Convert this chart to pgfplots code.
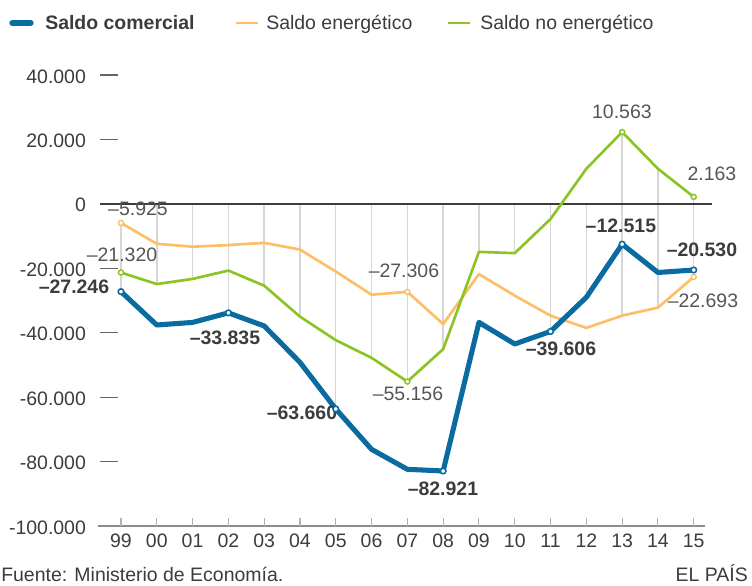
\documentclass[border=0pt]{standalone}
\usepackage{pgfplots}
\pgfplotsset{compat=1.18}
\usepackage{fontspec}
\setmainfont{Liberation Sans}
\definecolor{cblue}{HTML}{0A6BA1}
\definecolor{corange}{HTML}{FDBF66}
\definecolor{cgreen}{HTML}{8DC425}
\definecolor{ctext}{HTML}{3C3C3C}
\definecolor{clabel}{HTML}{555555}
\definecolor{cgrid}{HTML}{D6D6D6}
\begin{document}
\begin{tikzpicture}[font=\fontsize{14.6}{17.5}\selectfont]
\begin{axis}[
  at={(74.625pt,-394.5pt)}, anchor=south west,
  scale only axis, width=459.1pt, height=338.25pt,
  xmin=-0.6, xmax=16.5, ymin=-100000, ymax=40000,
  axis line style={draw=none},
  major tick length=0pt,
  scaled y ticks=false,
  xtick={0,...,16},
  xticklabels={99,00,01,02,03,04,05,06,07,08,09,10,11,12,13,14,15},
  ytick={-100000,-80000,-60000,-40000,-20000,0,20000,40000},
  yticklabels={-100.000,-80.000,-60.000,-40.000,-20.000,0,20.000,40.000},
  ticklabel style={font=\fontsize{14.6}{17.5}\selectfont, text=ctext},
  yticklabel style={anchor=east, inner sep=0pt, xshift=-10pt, yshift=-1pt},
  xticklabel style={anchor=north, inner sep=0pt, yshift=-6pt},
  clip=false,
  unbounded coords=jump,
]
% vertical guide lines
\addplot[cgrid, line width=1.1pt, forget plot] coordinates {
(0,-5925) (0,-27246) (0,nan)
(1,0) (1,-24900) (1,nan)
(2,0) (2,-23300) (2,nan)
(3,0) (3,-33835) (3,nan)
(4,0) (4,-25400) (4,nan)
(5,0) (5,-35300) (5,nan)
(6,0) (6,-63660) (6,nan)
(7,0) (7,-48200) (7,nan)
(8,0) (8,-55156) (8,nan)
(9,0) (9,-45100) (9,nan)
(10,0) (10,-14800) (10,nan)
(11,0) (11,-15300) (11,nan)
(12,0) (12,-39606) (12,nan)
(13,0) (13,-29000) (13,nan)
(14,22300) (14,-34700) (14,nan)
(15,10900) (15,-32200) (15,nan)
(16,2163) (16,-22693)
};
% bottom axis line and ticks
\addplot[color=black!45, line width=1.1pt, forget plot] coordinates {(-0.642,-100000) (16.313,-100000)};
\pgfplotsinvokeforeach{0,...,16}{\draw[black!30, line width=0.8pt] (axis cs:#1,-100000) -- (axis cs:#1,-97500);}
% y dashes
\pgfplotsinvokeforeach{-80000,-60000,-40000,-20000,20000,40000}{\draw[black!60, line width=0.9pt] (axis cs:-0.587,#1) -- (axis cs:-0.084,#1);}
% zero line
\addplot[ctext, line width=1.1pt, forget plot] coordinates {(-0.587,0) (16.5,0)};
% Saldo energetico
\addplot[corange, line width=2pt, line join=round] coordinates {
(0,-5925) (1,-12400) (2,-13300) (3,-12800) (4,-12100) (5,-14200) (6,-21000) (7,-28200) (8,-27306)
(9,-37300) (10,-21800) (11,-28500) (12,-34700) (13,-38500) (14,-34700) (15,-32200) (16,-22693)};
\addplot[only marks, mark=*, mark size=1.9pt, mark options={fill=white, draw=corange, line width=1.1pt}] coordinates {(0,-5925) (8,-27306) (16,-22693)};
% Saldo no energetico
\addplot[cgreen, line width=2pt, line join=round] coordinates {
(0,-21320) (1,-24900) (2,-23300) (3,-20700) (4,-25400) (5,-35000) (6,-42300) (7,-47800) (8,-55156)
(9,-45100) (10,-14900) (11,-15300) (12,-4700) (13,10900) (14,22300) (15,10900) (16,2163)};
\addplot[only marks, mark=*, mark size=1.9pt, mark options={fill=white, draw=cgreen, line width=1.1pt}] coordinates {(0,-21320) (8,-55156) (14,22300) (16,2163)};
% Saldo comercial
\addplot[cblue, line width=3.8pt, line join=round] coordinates {
(0,-27246) (1,-37600) (2,-36800) (3,-33835) (4,-37900) (5,-49200) (6,-63660) (7,-76200) (8,-82400)
(9,-82921) (10,-36800) (11,-43500) (12,-39606) (13,-29000) (14,-12515) (15,-21300) (16,-20530)};
\addplot[only marks, mark=*, mark size=2.1pt, mark options={fill=white, draw=cblue, line width=1.2pt}] coordinates {(0,-27246) (3,-33835) (6,-63660) (9,-82921) (12,-39606) (14,-12515) (16,-20530)};
% labels
\begin{scope}[every node/.style={font=\fontsize{14.6}{17.5}\selectfont\bfseries, text=ctext, inner sep=0pt}]
\node at (axis cs:-1.313,-25800) {–27.246};
\node at (axis cs:2.905,-41687) {–33.835};
\node at (axis cs:5.056,-64709) {–63.660};
\node at (axis cs:8.994,-88352) {–82.921};
\node at (axis cs:12.291,-45110) {–39.606};
\node at (axis cs:13.966,-6844) {–12.515};
\node at (axis cs:16.229,-14311) {–20.530};
\end{scope}
\begin{scope}[every node/.style={font=\fontsize{14.6}{17.5}\selectfont, text=clabel, inner sep=0pt}]
\node at (axis cs:0.475,-1556) {–5.925};
\node at (axis cs:0.028,-15866) {–21.320};
\node at (axis cs:7.905,-20844) {–27.306};
\node at (axis cs:8.017,-59109) {–55.156};
\node at (axis cs:13.994,28621) {10.563};
\node at (axis cs:16.508,9333) {2.163};
\node at (axis cs:16.257,-30177) {–22.693};
\end{scope}
\end{axis}
\begin{scope}[x=0.75pt,y=-0.75pt]
\draw[cblue, line width=4pt, line cap=round] (12,23) -- (31,23);
\node[anchor=base west, inner sep=0pt, font=\fontsize{14.6}{17.5}\selectfont\bfseries, text=ctext] at (45,30) {Saldo comercial};
\draw[corange, line width=2.2pt] (236,23) -- (258,23);
\node[anchor=base west, inner sep=0pt, text=ctext] at (266,30) {Saldo energético};
\draw[cgreen, line width=2.2pt] (448,23) -- (470,23);
\node[anchor=base west, inner sep=0pt, text=ctext] at (480,30) {Saldo no energético};
\node[anchor=base west, inner sep=0pt, text=ctext] at (1,581) {Fuente: Ministerio de Economía.};
\node[anchor=base east, inner sep=0pt, text=ctext] at (748,581) {EL PAÍS};
\end{scope}
\pgfresetboundingbox
\path[use as bounding box] (0,0) rectangle (564pt,-438.75pt);
\end{tikzpicture}
\end{document}
